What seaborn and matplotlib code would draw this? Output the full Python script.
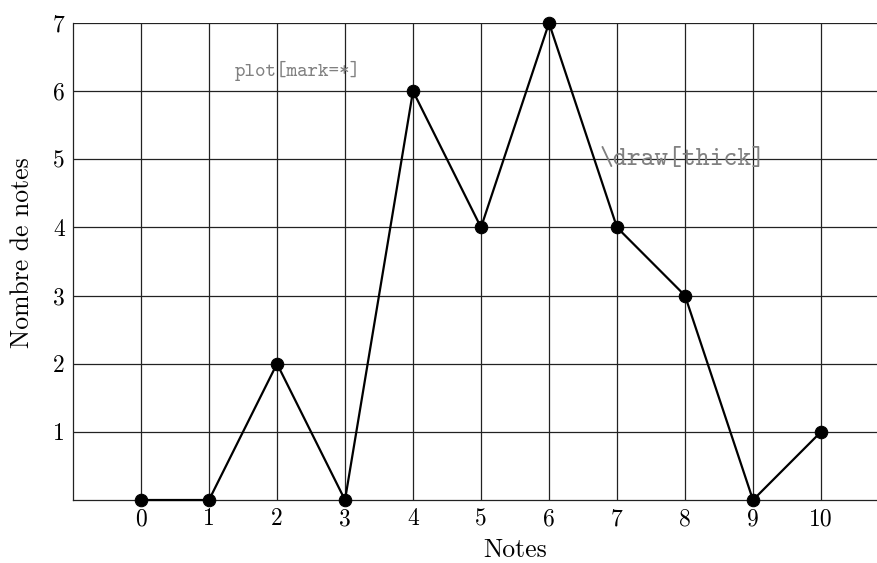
import matplotlib
matplotlib.use("Agg")
import matplotlib.pyplot as plt
import seaborn as sns
import pandas as pd

notes = [0, 1, 2, 3, 4, 5, 6, 7, 8, 9, 10]
counts = [0, 0, 2, 0, 6, 4, 7, 4, 3, 0, 1]
yticks = [1, 2, 3, 4, 5, 6, 7]
xlabel = "Notes"
ylabel = "Nombre de notes"
ann1 = "plot[mark=*]"
ann2 = "\\draw[thick]"

sns.set_theme(style="white")
plt.rcParams["font.family"] = ["cmr10", "DejaVu Serif"]
plt.rcParams["axes.formatter.use_mathtext"] = True
plt.rcParams["mathtext.fontset"] = "cm"

fig = plt.figure(figsize=(8.77, 5.63), dpi=100)
ax = fig.add_axes([73/877, 63/563, 1 - 73/877, (500-23)/563])

df = pd.DataFrame({"Notes": notes, "count": counts})
sns.lineplot(data=df, x="Notes", y="count", ax=ax, color="black", linewidth=1.6,
             marker="o", markersize=9, markeredgecolor="black", markerfacecolor="black",
             clip_on=False, zorder=5)

ax.set_xlim(-1, (877-141)/68)
ax.set_ylim(0, 7)
ax.set_xticks(notes)
ax.set_yticks(yticks)
ax.set_xticklabels([str(v) for v in notes])
ax.set_yticklabels([str(v) for v in yticks])
ax.grid(True, color="#222222", linewidth=0.9)
ax.tick_params(axis="both", length=0, labelsize=17, colors="black", pad=6)
for s in ["top", "right"]:
    ax.spines[s].set_visible(False)
for s in ["left", "bottom"]:
    ax.spines[s].set_color("#222222")
    ax.spines[s].set_linewidth(0.9)

ax.set_xlabel(xlabel, fontsize=18.5, color="black")
ax.set_ylabel(ylabel, fontsize=18.5, color="black")
ax.xaxis.set_label_coords((515-73)/(877-73), (500-550)/477, transform=ax.transAxes)
ax.xaxis.label.set_va("center")
ax.yaxis.set_label_coords((22-73)/(877-73), (500-253)/477, transform=ax.transAxes)
ax.yaxis.label.set_va("center")

ax.text(2.30, 6.30, ann1, family="cmtt10", fontsize=14.4, color="#808080",
        ha="center", va="center", zorder=6)
ax.text(7.97, 5.0, ann2, family="cmtt10", fontsize=19, color="#808080",
        ha="center", va="center", zorder=6)

fig.savefig("out.png", dpi=100)
